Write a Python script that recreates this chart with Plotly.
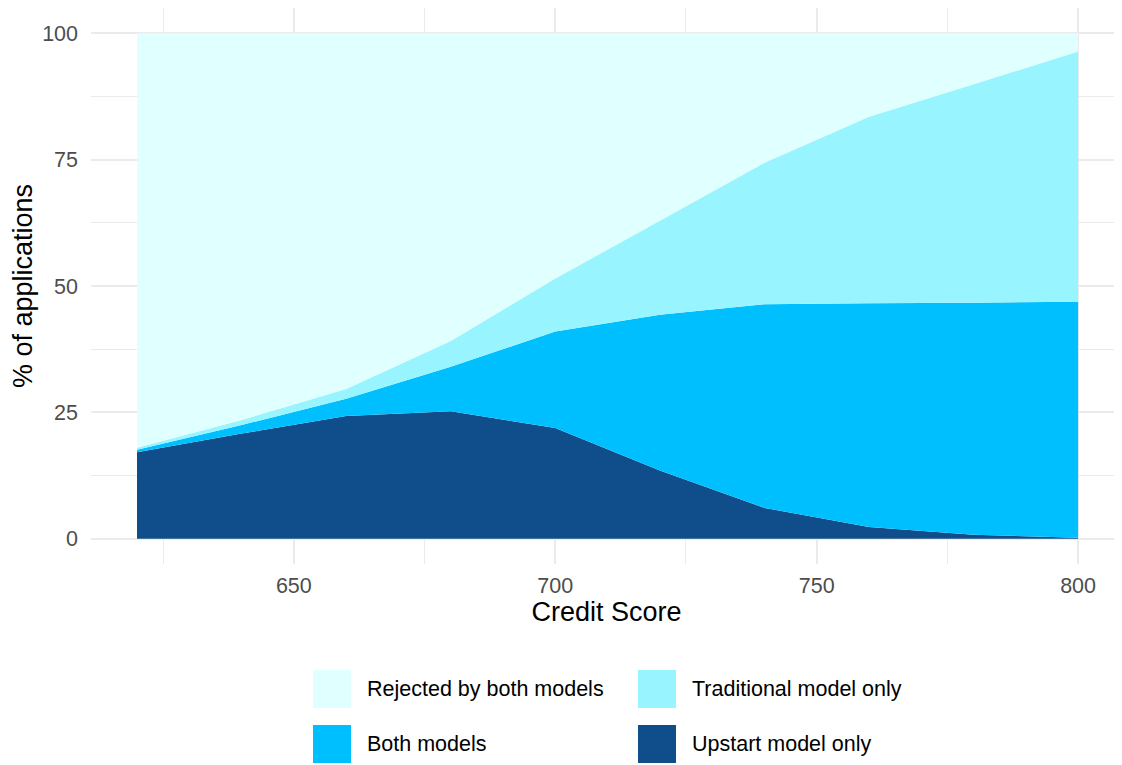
import plotly.graph_objects as go

# Data (share of applications, %)
credit_score = [620, 640, 660, 680, 700, 720, 740, 760, 780, 800]
upstart_only = [17.1, 20.8, 24.3, 25.2, 21.9, 13.5, 6.1, 2.3, 0.8, 0.2]
both_models = [0.5, 1.7, 3.4, 8.8, 19.1, 30.8, 40.3, 44.3, 45.9, 46.7]
traditional_only = [0.4, 1.0, 1.9, 5.1, 10.5, 18.6, 28.0, 36.9, 43.2, 49.5]
rejected_both = [82.0, 76.5, 70.4, 60.9, 48.5, 37.1, 25.6, 16.5, 10.1, 3.6]

series_names = ["Upstart model only", "Both models", "Traditional model only", "Rejected by both models"]
series_values = [upstart_only, both_models, traditional_only, rejected_both]
series_colors = ["#104E8B", "#00BFFF", "#98F5FF", "#E0FFFF"]

# legend layout (ggplot style, 2 x 2, filled row-wise)
legend_order = ["Rejected by both models", "Traditional model only", "Both models", "Upstart model only"]

fig = go.Figure()
for name, vals, col in zip(series_names, series_values, series_colors):
    fig.add_trace(go.Scatter(
        x=credit_score, y=vals, name=name, stackgroup="one",
        mode="none", fillcolor=col, showlegend=False,
    ))

# page has an 8px body margin, so the figure is drawn 8px in from the window corner
OFF = 8
W, H = 1122 - OFF, 765 - OFF
# plot area in window pixels: left 91, right 1122, top 8, bottom 564
L, R, T, B = 91, 1122, 8, 564
def px(x):
    return (x - L) / (R - L)
def py(y):
    return (B - y) / (B - T)

shapes = []
annotations = []
key = 38
col_x = [313, 638]
row_y = [670, 725]
for i, name in enumerate(legend_order):
    c = series_colors[series_names.index(name)]
    x0 = col_x[i % 2]
    y0 = row_y[i // 2]
    shapes.append(dict(type="rect", xref="paper", yref="paper",
                       x0=px(x0), x1=px(x0 + key), y0=py(y0 + key), y1=py(y0),
                       fillcolor=c, line=dict(width=0)))
    annotations.append(dict(xref="paper", yref="paper", x=px(x0 + key + 14), y=py(y0 + key / 2),
                            text=name, showarrow=False, xanchor="left", yanchor="middle",
                            font=dict(size=21.5, color="black")))

fig.update_layout(
    width=W, height=H,
    margin=dict(l=L - OFF, r=0, t=T - OFF, b=H - (B - OFF)),
    paper_bgcolor="white", plot_bgcolor="white",
    font=dict(family="Liberation Sans, Arial, sans-serif"),
    shapes=shapes, annotations=annotations,
    xaxis=dict(
        range=[611.2, 808.4], tickvals=[650, 700, 750, 800],
        showgrid=True, gridcolor="#EBEBEB", gridwidth=2, zeroline=False,
        minor=dict(tickvals=[625, 675, 725, 775], showgrid=True, gridcolor="#EBEBEB", gridwidth=1),
        tickfont=dict(size=21.5, color="#4D4D4D"), ticklabelstandoff=6,
        title=dict(text="Credit Score", font=dict(size=27, color="black"), standoff=4),
    ),
    yaxis=dict(
        range=[-5, 105], tickvals=[0, 25, 50, 75, 100],
        showgrid=True, gridcolor="#EBEBEB", gridwidth=2, zeroline=False,
        minor=dict(tickvals=[12.5, 37.5, 62.5, 87.5], showgrid=True, gridcolor="#EBEBEB", gridwidth=1),
        tickfont=dict(size=21.5, color="#4D4D4D"), ticklabelstandoff=12,
        title=dict(text="% of applications", font=dict(size=27, color="black"), standoff=9),
    ),
)

fig.write_html("out.html")
